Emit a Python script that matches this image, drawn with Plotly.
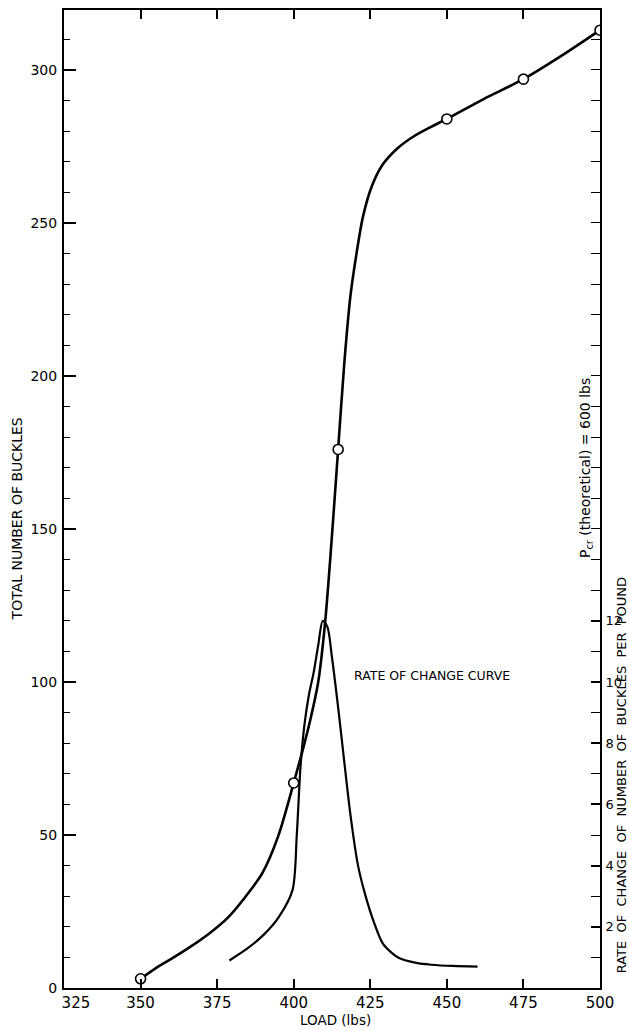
import plotly.graph_objects as go

# Measured points (open circles)
load_pts = [350, 400, 414.5, 450, 475, 500]
buckles_pts = [3, 67, 176, 284, 297, 313]

# Total number of buckles curve
curve_load = [350, 355, 360, 365.7, 372, 378.6, 384, 389.8, 395, 400, 403, 405.5, 408, 410.3,
              412.5, 414.5, 416.5, 418.5, 420.5, 422.6, 425.5, 429, 434, 439.5, 445, 450, 462, 475, 488, 500]
curve_buckles = [3, 6.5, 9.5, 13.1, 17.5, 23.1, 29.5, 37.6, 49.8, 67, 78, 88, 100, 120,
                 148, 176, 204, 226, 240, 252, 262, 269, 274.5, 278.5, 281.5, 284, 290.5, 297, 305, 313]

# Rate of change curve (buckles per pound)
rate_load = [379, 385, 390.4, 395, 399.6, 401, 402.2, 403.5, 405, 406.5, 408, 409.5,
             411, 412.5, 414.7, 416.5, 418.6, 421, 423.2, 426, 429.1, 432, 434.4, 440, 444.9, 452, 460]
rate_vals = [0.9, 1.3, 1.76, 2.3, 3.2, 5.0, 7.2, 8.6, 9.6, 10.3, 11.2, 12.0,
             11.8, 10.8, 9.0, 7.4, 5.6, 4.0, 3.1, 2.2, 1.45, 1.15, 0.98, 0.82, 0.76, 0.72, 0.70]

x_ticks = [325, 350, 375, 400, 425, 450, 475, 500]
x_ticktext = ["\u00a0\u00a0\u00a0\u00a0\u00a0325", "350", "375", "400", "425", "450", "475", "500"]
y_ticks = [0, 50, 100, 150, 200, 250, 300]
y2_ticks = [2, 4, 6, 8, 10, 12]

FONT = "DejaVu Sans"

fig = go.Figure()
fig.add_trace(go.Scatter(x=curve_load, y=curve_buckles, mode="lines",
                         line=dict(color="black", width=2.6, shape="spline", smoothing=0.8),
                         hoverinfo="skip", showlegend=False))
fig.add_trace(go.Scatter(x=rate_load, y=rate_vals, mode="lines", yaxis="y2",
                         line=dict(color="black", width=2.2, shape="spline", smoothing=0.8),
                         hoverinfo="skip", showlegend=False))
fig.add_trace(go.Scatter(x=load_pts, y=buckles_pts, mode="markers",
                         marker=dict(symbol="circle", size=10, color="white",
                                     line=dict(color="black", width=1.6)),
                         showlegend=False))

fig.update_layout(
    width=629, height=1031,
    margin=dict(l=64, r=29, t=10, b=43),
    paper_bgcolor="white", plot_bgcolor="white",
    font=dict(family=FONT, color="black"),
    xaxis=dict(range=[325, 500], tickmode="array", tickvals=x_ticks, ticktext=x_ticktext,
               ticks="inside", ticklen=9, tickwidth=1.5, tickcolor="black",
               showline=True, linecolor="black", linewidth=2, mirror="ticks",
               showgrid=False, zeroline=False, tickfont=dict(size=15), automargin=False),
    yaxis=dict(range=[0, 319.6], tickmode="array", tickvals=y_ticks,
               ticks="inside", ticklen=12, tickwidth=1.5, tickcolor="black",
               minor=dict(tickmode="linear", tick0=0, dtick=10, ticks="inside", ticklen=6,
                          tickwidth=1.2, tickcolor="black", showgrid=False),
               showline=True, linecolor="black", linewidth=2, automargin=False,
               showgrid=False, zeroline=False, tickfont=dict(size=14), ticklabelstandoff=2),
    yaxis2=dict(range=[0, 31.96], overlaying="y", side="right", tickmode="array",
                tickvals=y2_ticks, ticks="inside", ticklen=9, tickwidth=1.5, tickcolor="black",
                minor=dict(tickmode="linear", tick0=0, dtick=1, ticks="inside", ticklen=9,
                           tickwidth=1.2, tickcolor="black", showgrid=False),
                showline=True, linecolor="black", linewidth=2, automargin=False,
                showgrid=False, zeroline=False, tickfont=dict(size=13), ticklabelstandoff=1),
    annotations=[
        dict(text="RATE OF CHANGE CURVE", x=445, y=102, xref="x", yref="y",
             showarrow=False, font=dict(size=12.5), xanchor="center", yanchor="middle"),
        dict(text="P<sub>cr</sub> (theoretical) = 600 lbs", x=495.5, y=170, xref="x", yref="y",
             showarrow=False, textangle=-90, font=dict(size=14), xanchor="center", yanchor="middle"),
        dict(text="RATE\u00a0\u00a0OF\u00a0\u00a0CHANGE\u00a0\u00a0OF\u00a0\u00a0NUMBER\u00a0\u00a0OF\u00a0\u00a0BUCKLES\u00a0\u00a0PER\u00a0\u00a0POUND",
             x=1.04, y=0.218, xref="paper", yref="paper", showarrow=False, textangle=-90,
             font=dict(size=13), xanchor="center", yanchor="middle"),
        dict(text="TOTAL NUMBER OF BUCKLES", x=-0.088, y=0.48, xref="paper", yref="paper",
             showarrow=False, textangle=-90, font=dict(size=14), xanchor="center", yanchor="middle"),
        dict(text="LOAD (lbs)", x=0.506, y=-0.0327, xref="paper", yref="paper",
             showarrow=False, font=dict(size=13.5), xanchor="center", yanchor="middle"),
    ],
)

fig.write_html("out.html")
